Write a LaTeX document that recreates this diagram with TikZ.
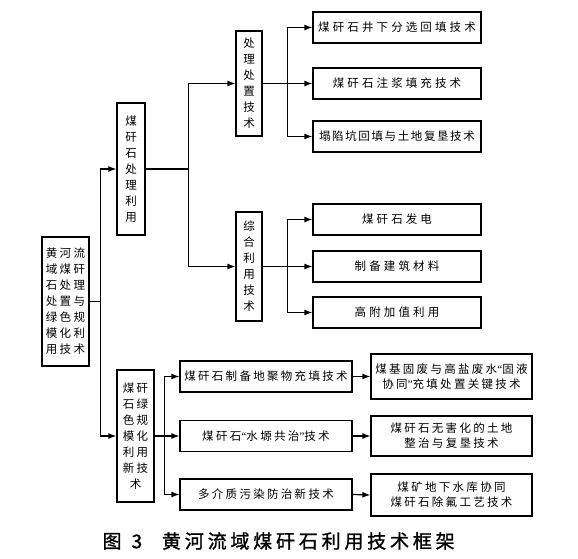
\documentclass[tikz,border=0pt]{standalone}
\usepackage{fontspec}
\newfontfamily\cjk[LetterSpace=20]{Noto Sans CJK SC}
\newfontfamily\cjkwide[LetterSpace=27]{Noto Sans CJK SC}
\newfontfamily\cjknarrow[LetterSpace=14]{Noto Sans CJK SC}
\newfontfamily\capfont[LetterSpace=20,FakeBold=1.2]{Noto Sans CJK SC}
\newfontfamily\quotefont{Liberation Serif}
\newcommand{\oquote}{{\quotefont\char"201C}}
\newcommand{\cquote}{{\quotefont\char"201D}}
\usetikzlibrary{arrows.meta}

\begin{document}
\begin{tikzpicture}
	[x=1pt,y=-1pt,
	box/.style={draw, line width=1.2pt, inner sep=0pt, align=center, font=\cjk\fontsize{11.5}{16}\selectfont},
	leaf/.style={box, minimum width=168pt, minimum height=31pt, font=\cjkwide\fontsize{11.5}{16}\selectfont},
	tech/.style={box, minimum width=172pt, minimum height=31pt},
	key/.style={box, minimum width=161pt, font=\cjk\fontsize{11.5}{15}\selectfont},
	arr/.style={-{Latex[length=8pt,width=6pt]}, line width=1.2pt},
	line/.style={line width=1.2pt}];
	\useasboundingbox (0,0) rectangle (578,558);

	%Root and branches
	\node[box, minimum width=47pt, minimum height=129pt] (root) at (65.5,301.5) {黄河流\\域煤矸\\石处理\\处置与\\绿色规\\模化利\\用技术};
	\node[box, minimum width=28pt, minimum height=132pt] (use) at (131,169) {煤\\矸\\石\\处\\理\\利\\用};
	\node[box, minimum width=37pt, minimum height=132pt] (green) at (135.5,436) {煤矸\\石绿\\色规\\模化\\利用\\新技\\术};
	\node[box, minimum width=26pt, minimum height=105pt] (treat) at (249,83.5) {处\\理\\处\\置\\技\\术};
	\node[box, minimum width=26pt, minimum height=109pt] (comp) at (249,266.5) {综\\合\\利\\用\\技\\术};

	%Leaves
	\node[leaf] (l1) at (397,27.5) {煤矸石井下分选回填技术};
	\node[leaf] (l2) at (397,83.5) {煤矸石注浆填充技术};
	\node[leaf, font=\cjknarrow\fontsize{11.5}{16}\selectfont] (l3) at (397,136.5) {塌陷坑回填与土地复垦技术};
	\node[leaf] (l4) at (397,219.5) {煤矸石发电};
	\node[leaf] (l5) at (397,266.5) {制备建筑材料};
	\node[leaf] (l6) at (397,312.5) {高附加值利用};
	\node[tech] (t1) at (266,376.5) {煤矸石制备地聚物充填技术};
	\node[tech] (t2) at (266,436) {煤矸石\oquote 水塬共治\cquote 技术};
	\node[tech] (t3) at (266,494.5) {多介质污染防治新技术};
	\node[key, minimum height=45pt] (k1) at (451.5,376.5) {煤基固废与高盐废水\oquote 固液\\协同\cquote 充填处置关键技术};
	\node[key, minimum height=40pt] (k2) at (451.5,436) {煤矸石无害化的土地\\整治与复垦技术};
	\node[key, minimum height=42pt] (k3) at (451.5,495) {煤矿地下水库协同\\煤矸石除氟工艺技术};

	%Connectors
	\draw[line] (root.east) -- ++(11,0) coordinate (j1);
	\draw[arr] (j1) |- (use.west);
	\draw[arr] (j1) |- (green.west);
	\draw[line] (use.east) -- ++(43,0) coordinate (j2);
	\draw[arr] (j2) |- (treat.west);
	\draw[arr] (j2) |- (comp.west);
	\draw[line] (treat.east) -- ++(25,0) coordinate (j3);
	\draw[arr] (j3) |- (l1.west);
	\draw[arr] (j3) |- (l2.west);
	\draw[arr] (j3) |- (l3.west);
	\draw[line] (comp.east) -- ++(25,0) coordinate (j4);
	\draw[arr] (j4) |- (l4.west);
	\draw[arr] (j4) |- (l5.west);
	\draw[arr] (j4) |- (l6.west);
	\draw[line] (green.east) -- ++(10,0) coordinate (j5);
	\draw[arr] (j5) |- (t1.west);
	\draw[arr] (j5) |- (t2.west);
	\draw[arr] (j5) |- (t3.west);
	\draw[arr] (t1.east) -- (k1.west);
	\draw[arr] (t2.east) -- (k2.west);
	\draw[arr] (t3.east) -- (k3.west);

	%Caption
	\node[font=\capfont\fontsize{19}{19}\selectfont, anchor=west] (cap) at (99,541) {图\hspace{10pt}3\hspace{20pt}黄河流域煤矸石利用技术框架};
\end{tikzpicture}
\end{document}
